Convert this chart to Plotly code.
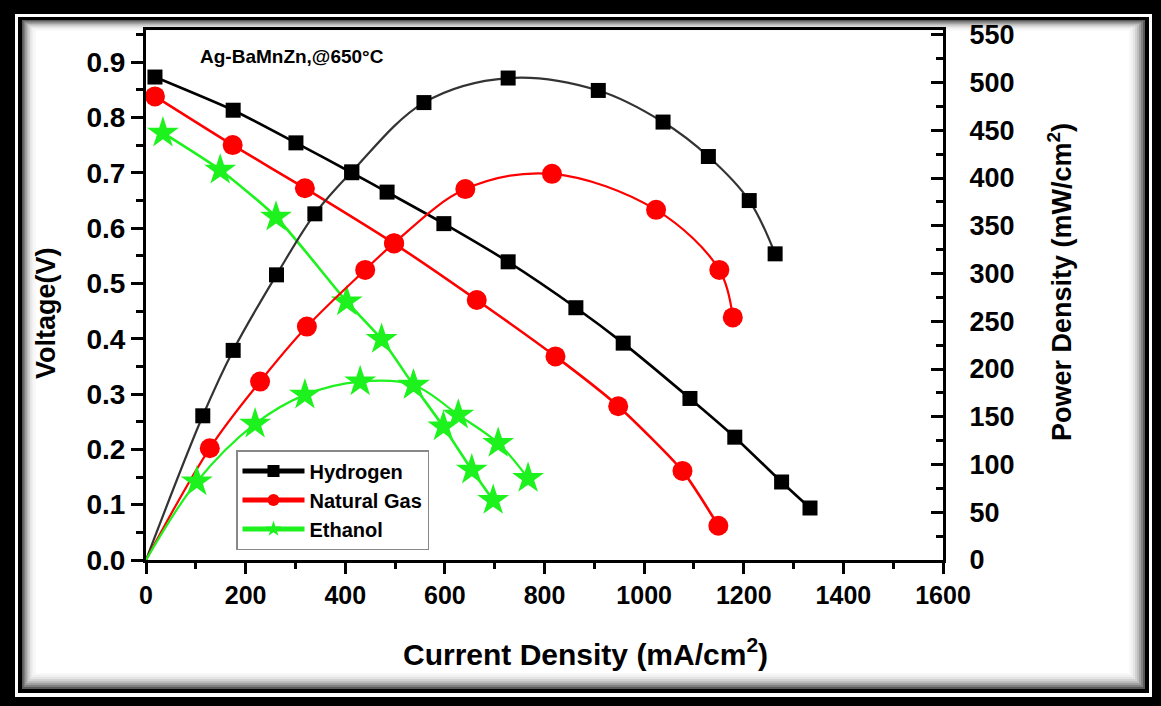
import plotly.graph_objects as go

# ---------------- data ----------------
# Current density (mA/cm2) for the voltage curves, and voltage (V)
h2_v_i = [18, 175, 301, 413, 484, 598, 727, 863, 958, 1092, 1182, 1276, 1333]
h2_v = [0.873, 0.813, 0.754, 0.700, 0.665, 0.608, 0.539, 0.456, 0.392, 0.292, 0.222, 0.141, 0.094]
# Current density and power density (mW/cm2)
h2_p_i = [0, 114, 175, 262, 339, 413, 558, 727, 908, 1038, 1129, 1211, 1263]
h2_p = [0, 151, 219.5, 298.6, 362.5, 406.5, 479, 504.7, 491.7, 458.6, 422.5, 376.4, 320.6]

ng_v_i = [18, 174, 319, 498, 664, 822, 948, 1077, 1149]
ng_v = [0.838, 0.750, 0.672, 0.572, 0.470, 0.368, 0.278, 0.161, 0.062]
ng_p_i = [0, 128, 229, 323, 440, 498, 641, 815, 1024, 1151, 1178]
ng_p = [0, 117, 186.8, 244.4, 303.8, 331.8, 388.4, 404.4, 366.7, 303.8, 254]

et_v_i = [34, 149, 261, 403, 473, 537, 597, 654, 697]
et_v = [0.772, 0.705, 0.620, 0.467, 0.399, 0.316, 0.241, 0.163, 0.108]
et_p_i = [0, 102, 219, 319, 430, 537, 627, 707, 767]
et_p = [0, 82, 142.5, 172.9, 186.8, 183.3, 151.9, 122.3, 85.6]

series_names = ["Hydrogen", "Natural Gas", "Ethanol"]
x_ticks = [0, 200, 400, 600, 800, 1000, 1200, 1400, 1600]
y_ticks = [0.0, 0.1, 0.2, 0.3, 0.4, 0.5, 0.6, 0.7, 0.8, 0.9]
y2_ticks = [0, 50, 100, 150, 200, 250, 300, 350, 400, 450, 500, 550]
note_text = "Ag-BaMnZn,@650°C"

# ---------------- styling ----------------
W, H = 1161, 706
L, R, T, B = 146, 218, 30, 146
PW, PH = W - L - R, H - T - B
FONT = "Liberation Sans, Arial, Helvetica, sans-serif"

BLACK = "#000000"
RED = "#ff0000"
GREEN = "#1ef21e"


def px(x):
    return (x - L) / PW


def py(y):
    return (H - B - y) / PH


fig = go.Figure()

styles = [
    dict(name=series_names[0], color=BLACK, pline="#333333", symbol="square", size=15),
    dict(name=series_names[1], color=RED, pline=RED, symbol="circle", size=20),
    dict(name=series_names[2], color=GREEN, pline=GREEN, symbol="star", size=24),
]
volt = [(h2_v_i, h2_v), (ng_v_i, ng_v), (et_v_i, et_v)]
powr = [(h2_p_i, h2_p), (ng_p_i, ng_p), (et_p_i, et_p)]

for st, (vi, vv), (pi, pp) in zip(styles, volt, powr):
    fig.add_trace(go.Scatter(
        x=vi, y=vv, mode="lines+markers", name=st["name"],
        line=dict(color=st["color"], width=2.6, shape="spline", smoothing=0.6),
        marker=dict(symbol=st["symbol"], size=st["size"], color=st["color"],
                    opacity=1, line=dict(width=0)),
        cliponaxis=False, yaxis="y", legendgroup=st["name"],
    ))
    sizes = [0 if v == 0 else st["size"] for v in pp]
    fig.add_trace(go.Scatter(
        x=pi, y=pp, mode="lines+markers", name=st["name"], showlegend=False,
        line=dict(color=st["pline"], width=2.2, shape="spline", smoothing=1.0),
        marker=dict(symbol=st["symbol"], size=sizes, color=st["color"],
                    opacity=1, line=dict(width=0)),
        cliponaxis=False, yaxis="y2", legendgroup=st["name"],
    ))

# ---------------- frame decoration ----------------
shapes = []


def rect(x0, y0, x1, y1, fill):
    shapes.append(dict(
        type="rect", xref="paper", yref="paper",
        x0=px(x0), x1=px(x1), y0=py(y1), y1=py(y0),
        fillcolor=fill, line=dict(width=0, color=fill),
        layer="below",
    ))


rect(0, 0, W, H, BLACK)
rect(15, 14, 1152, 697, "#ffffff")
rect(18, 17, 1149, 693, BLACK)
grays = ["#5a5a5a", "#808080", "#a0a0a0", "#bcbcbc", "#d2d2d2", "#e4e4e4", "#f0f0f0", "#f8f8f8"]
for k, g in enumerate(grays):
    rect(22 + 1.6 * k, 20 + 1.3 * k, 1145 - 2 * k, 689 - 2 * k, g)
rect(36, 31, 1129, 673, "#ffffff")


def ann(text, x, y, size, angle=0):
    return dict(text=text, xref="paper", yref="paper", x=px(x), y=py(y),
                xanchor="center", yanchor="middle", textangle=angle,
                showarrow=False,
                font=dict(size=size, family=FONT, color=BLACK, weight="bold"))


fig.update_layout(
    width=W, height=H,
    margin=dict(l=L, r=R, t=T, b=B, pad=0),
    paper_bgcolor="#ffffff",
    plot_bgcolor="#ffffff",
    font=dict(family=FONT, color=BLACK),
    shapes=shapes,
    showlegend=True,
    legend=dict(
        x=px(236), y=py(450), xanchor="left", yanchor="top",
        bgcolor="#ffffff", bordercolor="#888888", borderwidth=1.5,
        font=dict(size=20, family=FONT, color=BLACK, weight="bold"),
        itemsizing="constant", itemwidth=62, tracegroupgap=0,
    ),
    xaxis=dict(
        range=[0, 1600], tickvals=x_ticks, ticktext=[str(v) for v in x_ticks],
        showgrid=False, zeroline=False,
        showline=True, linecolor=BLACK, linewidth=3, mirror=True,
        ticks="outside", ticklen=11, tickwidth=3, tickcolor=BLACK,
        minor=dict(ticks="outside", ticklen=6, tickwidth=3, tickcolor=BLACK, dtick=100),
        tickfont=dict(size=25, family=FONT, color=BLACK, weight="bold"),
    ),
    yaxis=dict(
        range=[0, 0.958], tickvals=y_ticks, ticktext=[f"{v:.1f}" for v in y_ticks],
        showgrid=False, zeroline=False,
        showline=True, linecolor=BLACK, linewidth=3,
        ticks="outside", ticklen=12, tickwidth=3, tickcolor=BLACK,
        minor=dict(ticks="outside", ticklen=7, tickwidth=3, tickcolor=BLACK, dtick=0.05),
        tickfont=dict(size=28, family=FONT, color=BLACK, weight="bold"),
    ),
    yaxis2=dict(
        range=[0, 555], tickvals=y2_ticks, ticktext=[str(v) for v in y2_ticks],
        overlaying="y", side="right",
        showgrid=False, zeroline=False,
        showline=True, linecolor=BLACK, linewidth=3,
        ticks="inside", ticklen=12, tickwidth=3, tickcolor=BLACK,
        minor=dict(ticks="inside", ticklen=7, tickwidth=3, tickcolor=BLACK, dtick=25),
        ticklabelstandoff=18,
        tickfont=dict(size=27, family=FONT, color=BLACK, weight="bold"),
    ),
    annotations=[
        ann(note_text, 292, 57, 19),
        ann("Voltage(V)", 46, 313, 27, -90),
        ann("Power Density (mW/cm<sup>2</sup>)", 1060, 282, 27, -90),
        ann("Current Density (mA/cm<sup>2</sup>)", 585, 652, 30),
    ],
)

fig.write_html(
    "out.html",
    config={"displayModeBar": False},
    post_script="document.body.style.margin='0';document.body.style.overflow='hidden';",
)
